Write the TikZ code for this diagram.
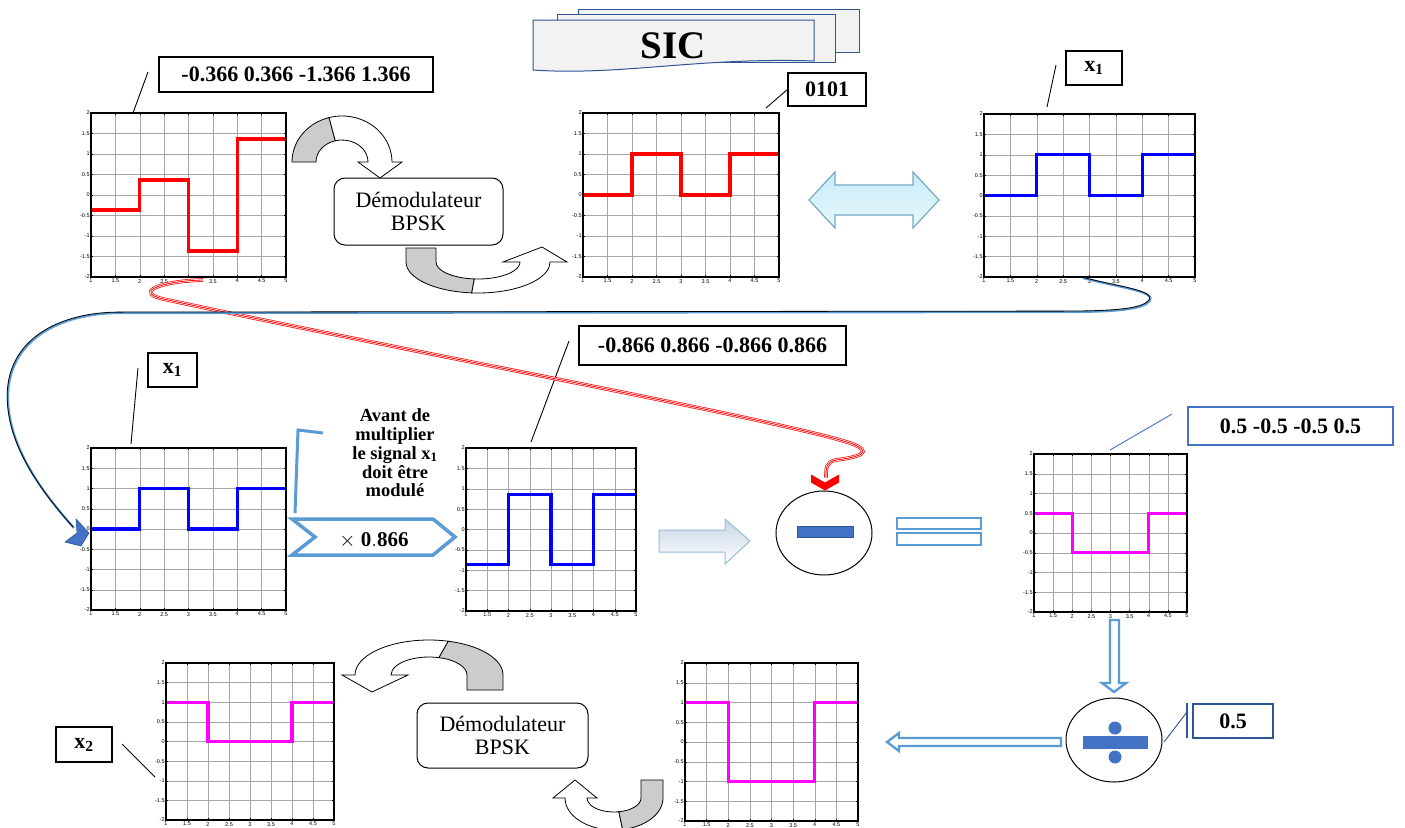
\documentclass[tikz,border=0pt]{standalone}
\usepackage{fontspec}
\setmainfont{Liberation Serif}
\setsansfont{Liberation Sans}
\usetikzlibrary{calc,fit,shapes.geometric}
\definecolor{lblue}{RGB}{91,155,213}
\definecolor{mblue}{RGB}{68,114,196}
\definecolor{dblue}{RGB}{47,85,151}
\definecolor{docfill}{RGB}{242,242,242}
\definecolor{arrgray}{RGB}{204,204,204}
\definecolor{sigred}{RGB}{255,0,0}
\definecolor{sigblue}{RGB}{0,0,255}
\definecolor{sigmag}{RGB}{255,0,255}
\tikzset{
  gridline/.style={draw=gray!70,line width=0.5pt},
  tickmark/.style={draw=black,line width=0.5pt},
  axbox/.style={draw=black,line width=1.4pt},
  sig/.style={line width=3.1pt},
  ytl/.style={font=\sffamily\fontsize{5.5}{5.5}\selectfont,anchor=east,inner sep=1.2pt,text=black},
  xtl/.style={font=\sffamily\fontsize{5.5}{5.5}\selectfont,anchor=north,inner sep=2pt,text=black},
  lbl/.style={draw=black,line width=1.1pt,inner sep=0pt,font=\bfseries\fontsize{22}{22}\selectfont,fill=white},
  demod/.style={draw=black,line width=1pt,rounded corners=11pt,align=center,font=\fontsize{22}{23}\selectfont,inner sep=0pt,fill=white},
  callout/.style={draw=black,line width=0.9pt},
  bandback/.style={fill=arrgray,draw=black,line width=0.8pt},
  bandfront/.style={fill=white,draw=black,line width=0.8pt},
  docsheet/.style={fill=docfill,draw=dblue,line width=1pt},
  hollow/.style={fill=white,draw=lblue,line width=2.4pt,line join=miter},
  redtriple/.style={draw=red,line width=3.6pt,postaction={draw=white,line width=2.2pt},postaction={draw=red,line width=0.8pt}},
}
\newcommand\plotgeom[4]{\def\gxa{#1}\def\gya{#2}\def\gxb{#3}\def\gyb{#4}}
\newcommand\sigplot[6]{%
  \pgfmathsetmacro\pw{(\gxb-\gxa)/4}%
  \pgfmathsetmacro\ph{(\gyb-\gya)/4}%
  \begin{scope}[shift={(\gxa,\gyb)},x=\pw pt,y=\ph pt]
    \foreach \i in {0.5,1,...,3.5}{%
      \draw[gridline] (\i,0) -- (\i,4);
      \draw[gridline] (0,\i) -- (4,\i);}
    \foreach \i in {0,0.5,...,4}{%
      \draw[tickmark] (\i,0) -- ++(0,2pt);
      \draw[tickmark] (\i,4) -- ++(0,-2pt);
      \draw[tickmark] (0,\i) -- ++(2pt,0);
      \draw[tickmark] (4,\i) -- ++(-2pt,0);}
    \draw[sig,#2] (0,{#3+2}) -- (1,{#3+2}) -- (1,{#4+2}) -- (2,{#4+2}) -- (2,{#5+2}) -- (3,{#5+2}) -- (3,{#6+2}) -- (4,{#6+2});
    \draw[axbox] (0,0) rectangle (4,4);
    \coordinate (#1-sw) at (0,0);
    \coordinate (#1-ne) at (4,4);
    \foreach \v/\t [count=\k] in {0/-2,0.5/-1.5,1/-1,1.5/-0.5,2/0,2.5/0.5,3/1,3.5/1.5,4/2}
      \node[ytl] (#1-y\k) at (0,\v) {\t};
    \foreach \v/\t [count=\k] in {0/1,0.5/1.5,1/2,1.5/2.5,2/3,2.5/3.5,3/4,3.5/4.5,4/5}
      \node[xtl] (#1-x\k) at (\v,0) {\t};
  \end{scope}
  \node[fit=(#1-sw)(#1-ne),inner sep=0pt] (#1) {};
}
\begin{document}
\begin{tikzpicture}[x=1pt,y=-1pt]
\useasboundingbox (0,0) rectangle (1405,827);
\fill[white] (0,0) rectangle (1405,827);

% ---------- SIC banner
\filldraw[docsheet] (578,9) rectangle (859,52);
\filldraw[docsheet] (557,14) rectangle (835,62);
\filldraw[docsheet] (533,20) -- (814,20) -- (814,61) .. controls (700,57) and (620,76) .. (533,70) -- cycle;
\node[font=\bfseries\fontsize{39}{39}\selectfont,inner sep=0pt] (sic) at (673,46) {SIC};

% ---------- plots
\plotgeom{91}{113}{286}{277}\sigplot{pA}{sigred}{-0.366}{0.366}{-1.366}{1.366}
\plotgeom{583}{113}{779}{277}\sigplot{pB}{sigred}{0}{1}{0}{1}
\plotgeom{984}{114}{1195}{277}\sigplot{pC}{sigblue}{0}{1}{0}{1}
\plotgeom{91}{448}{286}{610}\sigplot{pD}{sigblue}{0}{1}{0}{1}
\plotgeom{466}{448}{636}{611}\sigplot{pE}{sigblue}{-0.866}{0.866}{-0.866}{0.866}
\plotgeom{1034}{454}{1187}{612}\sigplot{pF}{sigmag}{0.5}{-0.5}{-0.5}{0.5}
\plotgeom{166}{663}{334}{820}\sigplot{pG}{sigmag}{1}{0}{0}{1}
\plotgeom{685}{663}{858}{821}\sigplot{pH}{sigmag}{1}{-1}{-1}{1}

% ---------- label boxes and callout lines
\node[lbl,minimum width=274pt,minimum height=35pt] (L1) at (296,74.5) {-0.366 0.366 -1.366 1.366};
\coordinate (L1a) at (148,72); \coordinate (L1b) at (133,113);
\draw[callout] (L1a) -- (L1b);
\node[lbl,minimum width=78pt,minimum height=33pt] (L2) at (827,89.5) {0101};
\coordinate (L2b) at (766,108);
\draw[callout] (L2.west) -- (L2b);
\node[lbl,minimum width=56pt,minimum height=34pt] (L3) at (1094,68) {x\textsubscript{1}};
\coordinate (L3a) at (1056,65); \coordinate (L3b) at (1047,107);
\draw[callout] (L3a) -- (L3b);
\node[lbl,minimum width=49pt,minimum height=34pt] (L4) at (172.5,370) {x\textsubscript{1}};
\coordinate (L4a) at (138,368); \coordinate (L4b) at (131,444);
\draw[callout] (L4a) -- (L4b);
\node[lbl,minimum width=267pt,minimum height=39pt] (L5) at (712.5,345.5) {-0.866 0.866 -0.866 0.866};
\coordinate (L5a) at (569,341); \coordinate (L5b) at (531,442);
\draw[callout] (L5a) -- (L5b);
\node[lbl,draw=mblue,minimum width=205pt,minimum height=38pt] (L6) at (1290.5,426) {0.5 -0.5 -0.5 0.5};
\coordinate (L6a) at (1172,414); \coordinate (L6b) at (1110,450);
\draw[callout,draw=mblue] (L6a) -- (L6b);
\node[lbl,draw=dblue,minimum width=80pt,minimum height=34pt] (L7) at (1233,721) {0.5};
\coordinate (L7t) at (1187,703); \coordinate (L7m) at (1187,738);
\coordinate (L7a) at (1187,712); \coordinate (L7b) at (1164,742);
\draw[callout,draw=dblue,line width=1.3pt] (L7t) -- (L7m);
\draw[callout,draw=dblue] (L7a) -- (L7b);
\node[lbl,minimum width=56pt,minimum height=35pt] (L8) at (84,744.5) {x\textsubscript{2}};
\coordinate (L8a) at (122,744); \coordinate (L8b) at (155,777);
\draw[callout] (L8a) -- (L8b);

% ---------- demodulator boxes
\node[demod,minimum width=169pt,minimum height=67pt] (dem1) at (418.5,211.5) {Démodulateur\\BPSK};
\node[demod,minimum width=171pt,minimum height=65pt] (dem2) at (502.5,735.5) {Démodulateur\\BPSK};

% ---------- curved band arrows
% A: over the top, tail left, head right pointing down
\coordinate (cA) at (342,162);
\filldraw[bandback] ($(cA)+(180:50 and 46)$) arc[start angle=180,end angle=255,x radius=50,y radius=46]
  -- ($(cA)+(255:26 and 22)$) arc[start angle=255,end angle=180,x radius=26,y radius=22] -- cycle;
\filldraw[bandfront] ($(cA)+(255:50 and 46)$) arc[start angle=255,end angle=360,x radius=50,y radius=46]
  -- (402,162) -- (380,178) -- (358,162) -- ($(cA)+(0:26 and 22)$)
  arc[start angle=360,end angle=255,x radius=26,y radius=22] -- cycle;
% B: under, tail left (top), head right pointing up
\coordinate (cB) at (478,262);
\filldraw[bandback] (406,248) -- ($(cB)+(180:72 and 31)$) arc[start angle=180,end angle=95,x radius=72,y radius=31]
  -- ($(cB)+(95:42 and 17)$) arc[start angle=95,end angle=180,x radius=42,y radius=17] -- (436,248) -- cycle;
\filldraw[bandfront] ($(cB)+(95:72 and 31)$) arc[start angle=95,end angle=0,x radius=72,y radius=31]
  -- (567,262) -- (542,247) -- (503,262) -- ($(cB)+(0:42 and 17)$)
  arc[start angle=0,end angle=95,x radius=42,y radius=17] -- cycle;
% C: over the top, tail right, head left pointing down
\coordinate (cC) at (429,675);
\filldraw[bandback] (503,690) -- ($(cC)+(0:74 and 35)$) arc[start angle=360,end angle=285,x radius=74,y radius=35]
  -- ($(cC)+(285:38 and 18)$) arc[start angle=285,end angle=360,x radius=38,y radius=18] -- (467,690) -- cycle;
\filldraw[bandfront] ($(cC)+(285:74 and 35)$) arc[start angle=285,end angle=180,x radius=74,y radius=35]
  -- (342,675) -- (372,692) -- (408,675) -- ($(cC)+(180:38 and 18)$)
  arc[start angle=180,end angle=285,x radius=38,y radius=18] -- cycle;
% D: under, tail right, head left pointing up
\coordinate (cD) at (614,798);
\filldraw[bandback] (663,780) -- ($(cD)+(0:49 and 32)$) arc[start angle=0,end angle=80,x radius=49,y radius=32]
  -- ($(cD)+(80:27 and 14)$) arc[start angle=80,end angle=0,x radius=27,y radius=14] -- (641,780) -- cycle;
\filldraw[bandfront] ($(cD)+(80:49 and 32)$) arc[start angle=80,end angle=180,x radius=49,y radius=32]
  -- (553,798) -- (575,780) -- (597,798) -- ($(cD)+(180:27 and 14)$)
  arc[start angle=180,end angle=80,x radius=27,y radius=14] -- cycle;

% ---------- light blue double arrow (top)
\shade[top color={rgb,255:red,200;green,236;blue,249},bottom color={rgb,255:red,232;green,247;blue,252},draw={rgb,255:red,120;green,170;blue,195},line width=1.2pt,line join=miter]
  (809,200) -- (835,172) -- (835,185) -- (913,185) -- (913,172) -- (939,200) -- (913,228) -- (913,215) -- (835,215) -- (835,228) -- cycle;

% ---------- middle: x0.866 multiplier
\coordinate (brA) at (295,513); \coordinate (brB) at (298,430); \coordinate (brC) at (323,433);
\draw[lblue,line width=3pt,line join=miter] (brA) -- (brB) -- (brC);
\node[align=center,font=\bfseries\fontsize{18.5}{18.8}\selectfont,inner sep=0pt] (avant) at (395,453)
  {Avant de\\multiplier\\le signal x\textsubscript{1}\\doit être\\modulé};
\draw[lblue,line width=3.5pt,line join=miter] (292,519) -- (433,519) -- (455,537) -- (433,555) -- (292,555) -- (315,537) -- cycle;
\node[font=\fontsize{21}{21}\selectfont,inner sep=0pt] (mul) at (374,540) {$\times\ \mathbf{0.866}$};

% ---------- shaded right arrow
\shade[top color={rgb,255:red,200;green,212;blue,228},bottom color=white,draw={rgb,255:red,150;green,190;blue,220},line width=1pt,line join=miter]
  (659,530) -- (725,530) -- (725,519) -- (750,541) -- (725,564) -- (725,552) -- (659,552) -- cycle;

% ---------- minus circle
\node[draw=black,line width=1pt,ellipse,minimum width=96pt,minimum height=84pt,inner sep=0pt] (minus) at (824,533) {};
\node[fill=mblue,draw=dblue,line width=0.8pt,minimum width=56pt,minimum height=11pt,inner sep=0pt] (minusbar) at (825,531.5) {};

% ---------- equals
\draw[lblue,line width=2.2pt] (897,518) rectangle (981,529);
\draw[lblue,line width=2.2pt] (897,533) rectangle (981,545);

% ---------- vertical hollow arrow and divide
\filldraw[hollow] (1110,620) -- (1110,683) -- (1102,683) -- (1114,692) -- (1126,683) -- (1119,683) -- (1119,620) -- cycle;
\node[draw=black,line width=1pt,ellipse,minimum width=96pt,minimum height=84pt,inner sep=0pt] (divide) at (1114,740) {};
\fill[mblue] (1083,736) rectangle (1148,749);
\fill[mblue] (1115,728) circle[radius=6.5];
\fill[mblue] (1115,757) circle[radius=6.5];
% horizontal hollow arrow
\filldraw[hollow] (1061,738) -- (899,738) -- (899,733) -- (887,742) -- (899,751) -- (899,746) -- (1061,746) -- cycle;

% ---------- red connector
\coordinate (rstart) at (203,280);
\draw[redtriple] (rstart) .. controls (160,281) and (130,293) .. (168,300)
  .. controls (400,350) and (780,420) .. (850,443)
  .. controls (875,452) and (860,457) .. (836,460)
  .. controls (826,462) and (826,468) .. ($(minus.north)+(2,-13)$);
\fill[red] ($(minus.north)+(-13,-16)$) -- ($(minus.north)+(1,-8)$) -- ($(minus.north)+(15,-16)$)
  -- ($(minus.north)+(15,-8)$) -- ($(minus.north)+(1,0)$) -- ($(minus.north)+(-13,-8)$) -- cycle;

% ---------- blue/black connector
\coordinate (bstart) at (1083,278);
\coordinate (chev) at (74,528);
\draw[lblue,line width=2.2pt] (bstart) .. controls (1120,288) and (1165,292) .. (1146,304)
  .. controls (1135,311) and (1100,312) .. (1060,312) -- (120,313)
  .. controls (60,313) and (8,340) .. (8,397)
  .. controls (8,445) and (40,490) .. (chev);
\draw[black,line width=0.8pt,transform canvas={shift={(-0.8pt,0.9pt)}}] (bstart) .. controls (1120,288) and (1165,292) .. (1146,304)
  .. controls (1135,311) and (1100,312) .. (1060,312) -- (120,313)
  .. controls (60,313) and (8,340) .. (8,397)
  .. controls (8,445) and (40,490) .. (chev);
\filldraw[fill=mblue,draw=dblue,line width=0.6pt,line join=miter] (76,519) -- (89,533) -- (81,546) -- (65,542) -- (77,533) -- cycle;

\end{tikzpicture}
\end{document}
